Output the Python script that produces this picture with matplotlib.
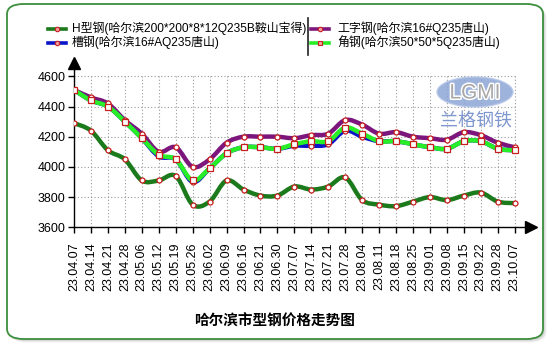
import matplotlib
matplotlib.use("Agg")
import matplotlib.pyplot as plt
import numpy as np
from matplotlib.path import Path
from matplotlib.patches import PathPatch, FancyBboxPatch, Ellipse
from matplotlib.lines import Line2D
import matplotlib.patheffects as pe

dates = ["23.04.07", "23.04.14", "23.04.21", "23.04.28", "23.05.06", "23.05.12",
         "23.05.19", "23.05.26", "23.06.02", "23.06.09", "23.06.16", "23.06.21",
         "23.06.30", "23.07.07", "23.07.14", "23.07.21", "23.07.28", "23.08.04",
         "23.08.11", "23.08.18", "23.08.25", "23.09.01", "23.09.08", "23.09.15",
         "23.09.22", "23.09.28", "23.10.07"]

h_beam = [4290, 4240, 4110, 4050, 3910, 3910, 3940, 3750, 3770, 3910, 3850, 3810, 3810,
          3870, 3850, 3870, 3930, 3780, 3750, 3740, 3770, 3800, 3780, 3810, 3830, 3770, 3760]
i_beam = [4510, 4460, 4420, 4310, 4220, 4100, 4130, 4000, 4050, 4160, 4200, 4200, 4200,
          4190, 4210, 4220, 4310, 4280, 4220, 4230, 4200, 4190, 4180, 4230, 4210, 4160, 4130]
channel = [4510, 4440, 4400, 4300, 4190, 4070, 4050, 3900, 3990, 4090, 4130, 4130, 4120,
           4140, 4140, 4150, 4240, 4200, 4170, 4170, 4150, 4130, 4120, 4170, 4170, 4120, 4110]
angle = [4510, 4440, 4400, 4300, 4190, 4080, 4050, 3910, 3990, 4090, 4130, 4130, 4120,
         4150, 4170, 4170, 4260, 4220, 4170, 4170, 4150, 4130, 4120, 4170, 4170, 4120, 4110]

names = ["H型钢(哈尔滨200*200*8*12Q235B鞍山宝得)", "工字钢(哈尔滨16#Q235唐山)",
         "槽钢(哈尔滨16#AQ235唐山)", "角钢(哈尔滨50*50*5Q235唐山)"]
colors = ["#1b7a1b", "#7c167c", "#0a14c8", "#27ee27"]
markers = ["o", "o", "o", "s"]
series = [h_beam, i_beam, channel, angle]

title = "哈尔滨市型钢价格走势图"
yticks = [3600, 3800, 4000, 4200, 4400, 4600]

W, H = 553, 346
CJK = ["Liberation Sans", "Noto Sans CJK SC"]


def fx(px):
    return px / W


def fy(py):
    return 1 - py / H


def smooth_path(xs, ys):
    # Catmull-Rom spline through the points, written as cubic Bezier segments
    pts = np.column_stack([xs, ys]).astype(float)
    n = len(pts)
    verts = [pts[0]]
    codes = [Path.MOVETO]
    for i in range(n - 1):
        p0 = pts[i - 1] if i > 0 else pts[i]
        p1 = pts[i]
        p2 = pts[i + 1]
        p3 = pts[i + 2] if i + 2 < n else pts[i + 1]
        c1 = p1 + (p2 - p0) / 6.0
        c2 = p2 - (p3 - p1) / 6.0
        verts += [c1, c2, p2]
        codes += [Path.CURVE4] * 3
    return Path(verts, codes)


fig = plt.figure(figsize=(W / 100, H / 100), dpi=100)

# framed card with a soft shadow
for off, a in [(3.5, 0.10), (2.5, 0.15), (1.5, 0.2)]:
    fig.patches.append(FancyBboxPatch((fx(7 + off), fy(339 + off)), fx(536), 335 / H,
                                      boxstyle="round,pad=0,rounding_size=0.03",
                                      transform=fig.transFigure, fc="#888888",
                                      ec="none", alpha=a, zorder=-3))
fig.patches.append(FancyBboxPatch((fx(7), fy(339)), fx(536), 335 / H,
                                  boxstyle="round,pad=0,rounding_size=0.03",
                                  transform=fig.transFigure, fc="white",
                                  ec="#3d8f3d", lw=1.3, zorder=-2))

x0, x26, yb, ytop, xr = 74, 514.7, 227.3, 63, 530.5
xmax = 26 * (xr - x0) / (x26 - x0)
ymax = 3600 + 1000 * (yb - ytop) / 151.0
ax = fig.add_axes([fx(x0), fy(yb), fx(xr - x0), (yb - ytop) / H])
ax.patch.set_alpha(0)
ax.set_xlim(0, xmax)
ax.set_ylim(3600, ymax)
x = np.arange(len(dates))

# dotted grid limited to the data range
ax.vlines(x[1:], 3600, 4600, colors="#9a9a9a", linestyles=(0, (1, 2)), lw=0.8, zorder=1)
ax.hlines(yticks[1:], 0, x[-1], colors="#9a9a9a", linestyles=(0, (1, 2)), lw=0.8, zorder=1)

for ys, c, m in zip(series, colors, markers):
    ax.add_patch(PathPatch(smooth_path(x, ys), fc="none", ec=c, lw=3.2,
                           capstyle="round", joinstyle="round", zorder=3))
    ms = 4.3 if m == "s" else 3.6
    ax.plot(x, ys, ls="none", marker=m, ms=ms, mfc="white", mec="#c81e1e",
            mew=0.9, zorder=4)

for s in ["top", "right"]:
    ax.spines[s].set_visible(False)
for s in ["left", "bottom"]:
    ax.spines[s].set_color("black")
    ax.spines[s].set_linewidth(1.0)
ax.plot([0], [ymax], marker="^", ms=8, color="black", clip_on=False, zorder=5)
ax.plot([xmax], [3600], marker=">", ms=8, color="black", clip_on=False, zorder=5)

ax.set_yticks(yticks)
ax.set_yticklabels([str(v) for v in yticks], fontsize=9, family="Liberation Sans")
ax.set_xticks(x)
ax.set_xticklabels(dates, rotation=90, fontsize=9, family="Liberation Sans")
ax.tick_params(axis="y", length=4, width=1, pad=2)
ax.tick_params(axis="x", length=4, width=1, pad=7)

# legend in two columns with a divider
rows = [(48, 72, 28.5), (311, 337, 28.5), (48, 72, 42.5), (311, 337, 42.5)]
order = [0, 1, 2, 3]
for (lx, tx, ty), i in zip(rows, order):
    fig.lines.append(Line2D([fx(lx), fx(lx + 18)], [fy(ty), fy(ty)], color=colors[i],
                            lw=2.6, transform=fig.transFigure))
    fig.lines.append(Line2D([fx(lx + 9)], [fy(ty)], marker="s" if markers[i] == "s" else "o",
                            ms=3.2, mfc="#f0a0a0", mec="#c81e1e", mew=0.8,
                            transform=fig.transFigure))
    fig.text(fx(tx), fy(ty), names[i], fontsize=8.6, family=CJK, va="center",
             ha="left", color="black")
fig.lines.append(Line2D([fx(308), fx(308)], [fy(18), fy(55)], color="#222222",
                        lw=1.2, transform=fig.transFigure))

# LGMI watermark
fig.patches.append(Ellipse((fx(475), fy(92)), fx(76), 30 / H, transform=fig.transFigure,
                           fc="#8da6d6", ec="#b8c8e8", lw=1, alpha=0.85, zorder=2))
fig.text(fx(475), fy(93), "LGMI", fontsize=15, family="Liberation Sans",
         ha="center", va="center", color="#a8a8a8", zorder=3,
         path_effects=[pe.withStroke(linewidth=2.2, foreground="white")])
fig.text(fx(476), fy(122), "兰格钢铁", fontsize=13, family="Noto Sans CJK SC",
         ha="center", va="center", color="#7f97cf", zorder=3)

fig.text(fx(275), fy(321), title, fontsize=10.5, family="Noto Sans CJK SC",
         weight="bold", ha="center", va="center")

fig.savefig("out.png", dpi=100)
